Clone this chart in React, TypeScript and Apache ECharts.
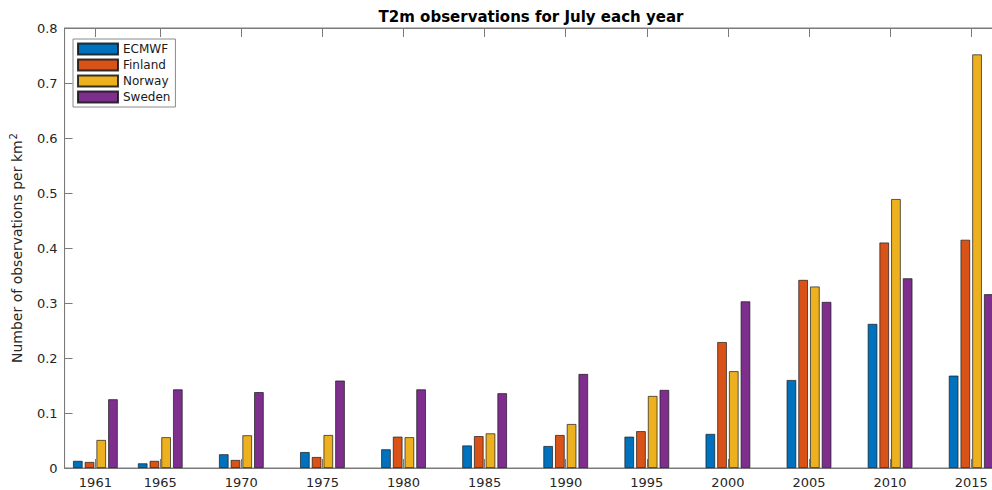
import React, { useEffect, useRef } from "react";
import * as echarts from "echarts";

const years = [1961, 1965, 1970, 1975, 1980, 1985, 1990, 1995, 2000, 2005, 2010, 2015];
const tickYears = [1961, 1965, 1970, 1975, 1980, 1985, 1990, 1995, 2000, 2005, 2010, 2015];
const ecmwf = [0.013, 0.0085, 0.025, 0.029, 0.034, 0.041, 0.040, 0.057, 0.062, 0.160, 0.262, 0.168];
const finland = [0.011, 0.013, 0.0146, 0.020, 0.057, 0.058, 0.060, 0.067, 0.229, 0.342, 0.410, 0.415];
const norway = [0.051, 0.056, 0.0595, 0.060, 0.056, 0.063, 0.080, 0.131, 0.176, 0.330, 0.489, 0.752];
const sweden = [0.125, 0.143, 0.138, 0.159, 0.143, 0.136, 0.171, 0.142, 0.303, 0.302, 0.345, 0.316];

const seriesNames = ["ECMWF", "Finland", "Norway", "Sweden"];
const seriesValues = [ecmwf, finland, norway, sweden];
const colors = ["#0072BD", "#D95319", "#EDB120", "#7E2F8E"];

const FONT = "DejaVu Sans";

export default function App() {
  const ref = useRef<HTMLDivElement>(null);
  useEffect(() => {
    if (!ref.current) return;
    const chart = echarts.init(ref.current, undefined, { renderer: "svg" });
    const axisGrey = "#7a7a7a";
    const commonX = {
      type: "value" as const,
      min: 1959.1,
      max: 2016.9,
      splitLine: { show: false },
      axisLine: { show: true, lineStyle: { color: axisGrey, width: 1 } },
    };
    chart.setOption({
      animation: false,
      backgroundColor: "#ffffff",
      graphic: [
        {
          type: "text",
          x: 531,
          y: 17,
          style: {
            text: "T2m observations for July each year",
            font: `bold 15px "${FONT}"`,
            fill: "#000000",
            align: "center",
            verticalAlign: "middle",
          },
        },
      ],
      grid: {
        left: 62,
        top: 28,
        width: 940,
        height: 440,
        show: true,
        borderColor: axisGrey,
        borderWidth: 1,
        backgroundColor: "#ffffff",
      },
      legend: {
        data: seriesNames,
        orient: "vertical",
        left: 73,
        top: 39,
        itemWidth: 40,
        itemHeight: 11,
        itemGap: 2,
        icon: "rect",
        padding: [3, 5, 3, 4],
        backgroundColor: "#ffffff",
        borderColor: "#8a8a8a",
        borderWidth: 1,
        borderRadius: 0,
        textStyle: { fontFamily: FONT, fontSize: 12, color: "#1a1a1a", lineHeight: 14 },
      },
      xAxis: [
        {
          ...commonX,
          position: "bottom",
          axisTick: {
            show: true,
            inside: true,
            length: 9,
            customValues: tickYears,
            lineStyle: { color: axisGrey },
          },
          axisLabel: {
            show: true,
            customValues: tickYears,
            margin: 8,
            fontFamily: FONT,
            fontSize: 13,
            color: "#262626",
            formatter: (v: number) => String(Math.round(v)),
          },
        },
        {
          ...commonX,
          position: "top",
          axisTick: {
            show: true,
            inside: true,
            length: 9,
            customValues: tickYears,
            lineStyle: { color: axisGrey },
          },
          axisLabel: { show: false },
        },
      ],
      yAxis: {
        type: "value",
        min: 0,
        max: 0.8,
        interval: 0.1,
        splitLine: { show: false },
        axisLine: { show: true, lineStyle: { color: axisGrey } },
        axisTick: { show: true, inside: true, length: 8, lineStyle: { color: axisGrey } },
        axisLabel: {
          margin: 7,
          fontFamily: FONT,
          fontSize: 13,
          color: "#262626",
          formatter: (v: number) => (Math.abs(v) < 1e-9 ? "0" : String(Math.round(v * 10) / 10)),
        },
        name: "{a|Number of observations per km}{sup|2}",
        nameLocation: "middle",
        nameGap: 33,
        nameTextStyle: {
          fontFamily: FONT,
          fontSize: 14,
          color: "#262626",
          rich: {
            a: { fontFamily: FONT, fontSize: 14, color: "#262626", lineHeight: 18 },
            sup: { fontFamily: FONT, fontSize: 10, color: "#262626", verticalAlign: "top", lineHeight: 18, padding: [0, 0, 8, 1] },
          },
        },
      },
      series: seriesNames.map((name, i) => ({
        name,
        type: "bar",
        xAxisIndex: 0,
        yAxisIndex: 0,
        barWidth: 9.6,
        barGap: "22%",
        data: years.map((y, j) => [y, seriesValues[i][j]]),
        itemStyle: {
          color: colors[i],
          borderColor: "rgba(20,20,20,0.85)",
          borderWidth: 0.8,
        },
      })),
    });
    return () => chart.dispose();
  }, []);
  return (
    <div
      style={{ position: "fixed", left: 0, top: 0, width: 992, height: 490, overflow: "hidden", background: "#fff" }}
    >
      <div ref={ref} style={{ width: 1010, height: 490 }} />
    </div>
  );
}
